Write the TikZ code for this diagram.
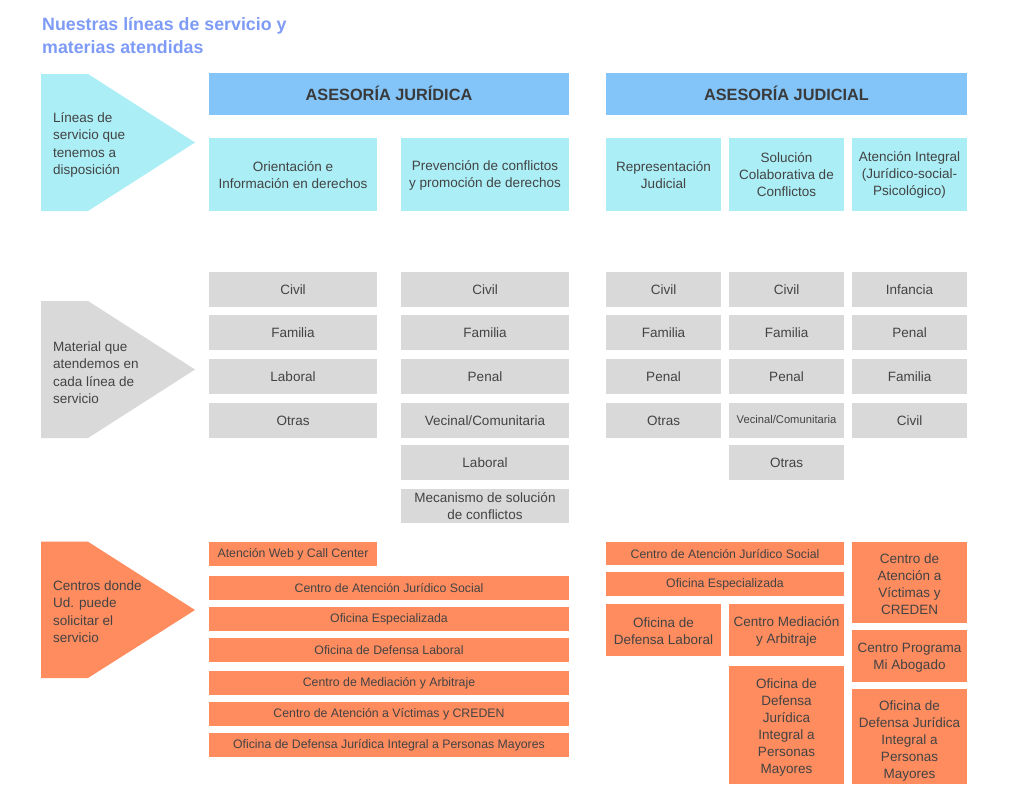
\documentclass[tikz,border=0pt]{standalone}
\usepackage{fontspec}
\setmainfont{Liberation Sans}
\definecolor{ttl}{HTML}{7E9BF6}
\definecolor{txt}{HTML}{434343}
\definecolor{htxt}{HTML}{3A3A3A}
\definecolor{hblue}{HTML}{83C5F9}
\definecolor{cyan1}{HTML}{ABEEF6}
\definecolor{grey1}{HTML}{D9D9D9}
\definecolor{orange1}{HTML}{FF8C5F}
\tikzset{tshift/.store in=\mktshift, tshift=0pt}
\newcommand\mkbox[7]{%
  \pgfmathsetmacro\mkcx{(#3+#5)/2}%
  \pgfmathsetmacro\mkcy{(#4+#6)/2}%
  \pgfmathsetmacro\mkw{#5-#3}%
  \pgfmathsetmacro\mkh{#6-#4}%
  \node[#2,minimum width=\mkw pt,minimum height=\mkh pt] (#1) at (\mkcx,\mkcy) {};
  \node[#2,fill=none,yshift=\mktshift] (#1t) at (\mkcx,\mkcy) {#7};}
\begin{document}
\begin{tikzpicture}[x=1pt,y=-1pt,
  base/.style={rectangle, inner sep=0pt, align=center, text=txt, font=\fontsize{13.5}{17}\selectfont},
  hdr/.style={base, fill=hblue, text=htxt, font=\bfseries\fontsize{16.3}{20}\selectfont},
  svc/.style={base, fill=cyan1},
  mat/.style={base, fill=grey1},
  ctr/.style={base, fill=orange1},
  small/.style={font=\fontsize{12.3}{15}\selectfont},
  tiny/.style={font=\fontsize{11.2}{14}\selectfont},
  side/.style={inner sep=0pt, align=left, anchor=west, text=txt, font=\fontsize{13.5}{17.5}\selectfont},
  ttlstyle/.style={inner sep=0pt, anchor=base west, text=ttl, font=\bfseries\fontsize{17.8}{22}\selectfont}]
\useasboundingbox (0,0) rectangle (1024,800);
\fill[white] (0,0) rectangle (1024,800);
% title
\node[ttlstyle] (t1) at (42,31) {Nuestras líneas de servicio y};
\node[ttlstyle] (t2) at (42,53) {materias atendidas};
% side arrows
\fill[cyan1] (41,74) -- (88,74) -- (195,142.5) -- (88,211) -- (41,211) -- cycle;
\node[side] (a1) at (53,145) {Líneas de\\servicio que\\tenemos a\\disposición};
\fill[grey1] (41,301) -- (88,301) -- (195,369.5) -- (88,438) -- (41,438) -- cycle;
\node[side] (a2) at (53,372.5) {Material que\\atendemos en\\cada línea de\\servicio};
\fill[orange1] (41,541.7) -- (88,541.7) -- (195,610) -- (88,678) -- (41,678) -- cycle;
\node[side] (a3) at (53,611.5) {Centros donde\\Ud. puede\\solicitar el\\servicio};
% headers
\mkbox{hj}{hdr,tshift=0.5pt}{209}{73}{569}{115}{ASESORÍA JURÍDICA}
\mkbox{hjd}{hdr,tshift=0.5pt}{606}{73}{967}{115}{ASESORÍA JUDICIAL}
% service lines
\mkbox{s1}{svc,tshift=-0.5pt}{209}{138}{377}{211}{Orientación e\\Información en derechos}
\mkbox{s2}{svc,tshift=-0.5pt}{401}{138}{569}{211}{Prevención de conflictos\\y promoción de derechos}
\mkbox{s3}{svc,tshift=-0.5pt}{606}{138}{721}{211}{Representación\\Judicial}
\mkbox{s4}{svc}{729}{138}{844}{211}{Solución\\Colaborativa de\\Conflictos}
\mkbox{s5}{svc,tshift=-0.5pt}{852}{138}{967}{211}{Atención Integral\\(Jurídico-social-\\Psicológico)}
% materias col 1
\mkbox{m11}{mat}{209}{272}{377}{307}{Civil}
\mkbox{m12}{mat}{209}{315}{377}{350}{Familia}
\mkbox{m13}{mat}{209}{359}{377}{394}{Laboral}
\mkbox{m14}{mat}{209}{403}{377}{438}{Otras}
% col 2
\mkbox{m21}{mat}{401}{272}{569}{307}{Civil}
\mkbox{m22}{mat}{401}{315}{569}{350}{Familia}
\mkbox{m23}{mat}{401}{359}{569}{394}{Penal}
\mkbox{m24}{mat}{401}{403}{569}{438}{Vecinal/Comunitaria}
\mkbox{m25}{mat}{401}{445}{569}{480}{Laboral}
\mkbox{m26}{mat}{401}{489}{569}{523}{Mecanismo de solución\\de conflictos}
% col 3
\mkbox{m31}{mat}{606}{272}{721}{307}{Civil}
\mkbox{m32}{mat}{606}{315}{721}{350}{Familia}
\mkbox{m33}{mat}{606}{359}{721}{394}{Penal}
\mkbox{m34}{mat}{606}{403}{721}{438}{Otras}
% col 4
\mkbox{m41}{mat}{729}{272}{844}{307}{Civil}
\mkbox{m42}{mat}{729}{315}{844}{350}{Familia}
\mkbox{m43}{mat}{729}{359}{844}{394}{Penal}
\mkbox{m44}{mat,tiny,tshift=1pt}{729}{403}{844}{438}{Vecinal/Comunitaria}
\mkbox{m45}{mat}{729}{445}{844}{480}{Otras}
% col 5
\mkbox{m51}{mat}{852}{272}{967}{307}{Infancia}
\mkbox{m52}{mat}{852}{315}{967}{350}{Penal}
\mkbox{m53}{mat}{852}{359}{967}{394}{Familia}
\mkbox{m54}{mat}{852}{403}{967}{438}{Civil}
% centros left
\mkbox{o1}{ctr,small,tshift=-0.5pt}{209}{542}{377}{566}{Atención Web y Call Center}
\mkbox{o2}{ctr,small}{209}{576}{569}{600}{Centro de Atención Jurídico Social}
\mkbox{o3}{ctr,small}{209}{607}{569}{631}{Oficina Especializada}
\mkbox{o4}{ctr,small}{209}{638}{569}{662}{Oficina de Defensa Laboral}
\mkbox{o5}{ctr,small}{209}{671}{569}{695}{Centro de Mediación y Arbitraje}
\mkbox{o6}{ctr,small}{209}{702}{569}{726}{Centro de Atención a Víctimas y CREDEN}
\mkbox{o7}{ctr,small}{209}{733}{569}{757}{Oficina de Defensa Jurídica Integral a Personas Mayores}
% centros right
\mkbox{p1}{ctr,small,tshift=-0.5pt}{606}{542}{844}{565}{Centro de Atención Jurídico Social}
\mkbox{p2}{ctr,small,tshift=-0.5pt}{606}{572}{844}{596}{Oficina Especializada}
\mkbox{p3}{ctr,tshift=-1.5pt}{606}{604}{721}{656}{Oficina de\\Defensa Laboral}
\mkbox{p4}{ctr,tshift=-1.5pt}{729}{604}{844}{656}{Centro Mediación\\y Arbitraje}
\mkbox{p5}{ctr,tshift=-2pt}{729}{666}{844}{784}{Oficina de\\Defensa\\Jurídica\\Integral a\\Personas\\Mayores}
\mkbox{p6}{ctr,tshift=-2pt}{852}{542}{967}{623}{Centro de\\Atención a\\Víctimas y\\CREDEN}
\mkbox{p7}{ctr,tshift=-2pt}{852}{630}{967}{682}{Centro Programa\\Mi Abogado}
\mkbox{p8}{ctr,tshift=-4pt}{852}{689}{967}{784}{Oficina de\\Defensa Jurídica\\Integral a\\Personas\\Mayores}
\end{tikzpicture}
\end{document}
